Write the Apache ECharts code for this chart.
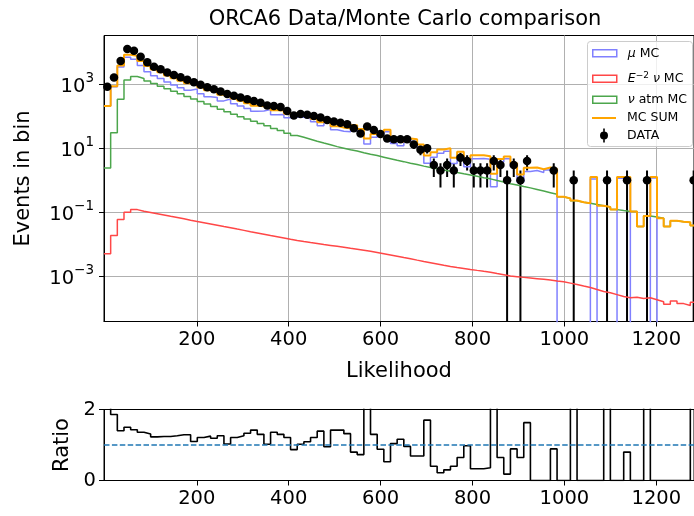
<!DOCTYPE html>
<html><head><meta charset="utf-8">
<script src="https://cdn.jsdelivr.net/npm/echarts@6/dist/echarts.min.js"></script>
<style>html,body{margin:0;padding:0;background:#fff}#c{width:694px;height:516px}</style>
</head><body><div id="c"></div>
<script>
// ---- data ----
const binEdges = [-2,12.5,27,41.5,56,70.5,85,99.5,114,128.5,143,157.5,172,186.5,201,215.5,230,244.5,259,273.5,
288,302.5,317,331.5,346,360.5,375,389.5,404,418.5,433,447.5,462,476.5,491,505.5,520,534.5,549,563.5,
578,592.5,607,621.5,636,650.5,665,679.5,694,708.5,723,737.5,752,766.5,781,795.5,810,824.5,839,853.5,
868,882.5,897,911.5,926,940.5,955,969.5,984,998.5,1013,1027.5,1042,1056.5,1071,1085.5,1100,1114.5,1129,1143.5,
1158,1172.5,1187,1201.5,1216,1230.5,1245,1259.5,1274,1288.5];

const muMC = [208,841,3497,7051,6094,3854,2481,1839,1508,1171,
945,778,653,708,505,408,388,302,347,245,
210,175,142,145,161,112,114,90,96,93,
84,67,50,67,38,34,33,44,33,13.5,
22,27,33,14,12,16.6,16,10.3,3.4,5.2,
7.0,8.1,3.3,6.1,2.65,4.7,4.8,4.5,0.62,3.7,
4.7,2.7,0.87,1.87,2.0,1.74,2.1,1.9,0,0,
0,0,0,1.08,0,0,0,1.14,1.15,0,
0,0,1.18,0,0,0,0,0,0];

const nuE2MC = [0.0050,0.0186,0.0589,0.100,0.120,0.107,0.0977,0.0891,0.0813,0.0741,
0.0676,0.0617,0.0562,0.0513,0.0468,0.0427,0.0389,0.0355,0.0324,0.0295,
0.0269,0.0245,0.0224,0.0204,0.0186,0.0170,0.0155,0.0141,0.0129,0.0120,
0.0112,0.0105,0.00977,0.00912,0.00851,0.00794,0.00741,0.00692,0.00646,0.00603,
0.00550,0.00501,0.00457,0.00417,0.00380,0.00347,0.00316,0.00288,0.00263,0.00240,
0.00219,0.00200,0.00186,0.00174,0.00162,0.00151,0.00141,0.00132,0.00120,0.00110,
0.00100,0.000955,0.000912,0.000871,0.000832,0.000794,0.000759,0.000708,0.000661,0.000603,
0.000550,0.000490,0.000437,0.000380,0.000331,0.000302,0.000263,0.000229,0.000209,0.000219,
0.000200,0.000209,0.000182,0.000158,0.000132,0.000166,0.000138,0.000120,0.000151];

const nuAtmMC = [2.4,30.2,339,1349,1738,1514,1259,1047,871,724,
603,501,417,347,288,240,200,166,138,115,
95.5,81.3,69.2,58.9,50.1,41.7,35.5,29.5,25.1,21.9,
19.1,16.6,14.5,12.9,11.2,10.0,8.91,8.13,7.24,6.46,
5.89,5.25,4.68,4.17,3.80,3.39,3.09,2.75,2.51,2.29,
2.09,1.91,1.74,1.58,1.45,1.32,1.20,1.10,0.977,0.871,
0.776,0.708,0.631,0.575,0.513,0.457,0.407,0.363,0.302,0.269,
0.229,0.204,0.191,0.174,0.158,0.145,0.120,0.112,0.105,0.105,
0.0355,0.0759,0.0708,0.0646,0.0355,0.0537,0.0501,0.0479,0.038];

const mcSum = [210,871,3836,8400,7832,5368,3740,2886,2379,1895,
1548,1279,1070,1055,793,648,588,468,485,360,
306,256,211,204,211,154,150,120,121,115,
103,84,65,80,49,44,42,52,40,20,
28,32,38,18,16,20,19,13,5.9,7.5,
9.1,10,5,7.7,4.1,6,6,5.6,1.6,4.6,
5.5,3.4,1.5,2.45,2.5,2.2,2.5,2.25,0.303,0.270,
0.230,0.205,0.191,1.25,0.158,0.145,0.120,1.25,1.25,0.105,
0.0357,0.0761,1.25,0.0648,0.0356,0.0539,0.0502,0.048,0.038];

const dataCounts = [840,1620,5370,12600,11200,7300,4900,3550,2950,2350,
1950,1650,1380,1160,960,810,700,590,500,435,
385,340,300,265,215,210,195,145,105,117,
112,102,91,76,69,63,56,42,29,48,
37,28,20,19,19,19,13,9,10,3,
2,3,2,5,4,2,2,2,4,3,
1,3,1,4,0,0,0,2,0,0,
1,0,0,0,0,1,0,0,1,0,
0,1,0,0,0,0,0,0,1];

const ratio = [4.0,1.86,1.40,1.50,1.43,1.36,1.31,1.23,1.24,1.24,
1.26,1.29,1.29,1.10,1.21,1.25,1.19,1.26,1.03,1.21,
1.26,1.33,1.42,1.30,1.02,1.36,1.30,1.21,0.87,1.02,
1.09,1.21,1.39,0.95,1.42,1.42,1.32,0.80,0.73,2.4,
1.30,0.88,0.53,1.04,1.16,0.96,0.69,0.69,1.70,0.40,
0.22,0.30,0.40,0.65,0.98,0.33,0.33,0.36,2.5,0.65,
0.18,0.89,0.65,1.63,0,0,0,0.89,0,0,
4.3,0,0,0,0,6.9,0,0,0.80,0,
0,13,0,0,0,0,0,0,26];

const xTicks = [200,400,600,800,1000,1200];
const yTickExponents = [-3,-1,1,3];
const ratioTicks = [0,2];

// ---- helpers ----
const FLOOR = -12;
const lg = v => v > 0 ? Math.log10(v) : FLOOR;
function stepData(vals, f) {
  const out = vals.map((v, i) => [binEdges[i], f(v)]);
  out.push([binEdges[vals.length], f(vals[vals.length - 1])]);
  return out;
}
const centers = dataCounts.map((_, i) => (binEdges[i] + binEdges[i + 1]) / 2);
const dataPts = [], errPts = [];
dataCounts.forEach((n, i) => {
  if (n > 0) {
    dataPts.push([centers[i], Math.log10(n)]);
    const e = Math.sqrt(n);
    errPts.push([centers[i], lg(n - e), Math.log10(n + e)]);
  }
});

const FONT = 'DejaVu Sans';
const chart = echarts.init(document.getElementById('c'), null, {renderer: 'canvas'});
const supMinus = v => (v < 0 ? '\u2212' + (-v) : '' + v);

const gridLine = {show: true, lineStyle: {color: '#b0b0b0', width: 1}};
const axisLineBlack = {show: true, onZero: false, lineStyle: {color: '#000', width: 1}};
const tickStyle = {show: true, length: 5, lineStyle: {color: '#000', width: 1}};
const plainNum = v => String(v);

function legendBox(name, top, left, iw, ih, icon, itemStyle, formatter, padLeft) {
  return {
    show: true, orient: 'horizontal', left: left, top: top, padding: 0, itemGap: 0,
    itemWidth: iw, itemHeight: ih, selectedMode: false,
    data: [{name: name, icon: icon, itemStyle: itemStyle}],
    formatter: formatter,
    textStyle: {fontFamily: FONT, fontSize: 12.5, color: '#000', lineHeight: 15, padding: [0, 0, 0, padLeft],
      rich: {
        i: {fontFamily: FONT, fontStyle: 'italic', fontSize: 12.5, lineHeight: 15},
        n: {fontFamily: FONT, fontSize: 12.5, lineHeight: 15},
        s: {fontFamily: FONT, fontSize: 9, lineHeight: 15, verticalAlign: 'top', padding: [0, 0, 0, 0]}
      }}
  };
}

const option = {
  animation: false,
  backgroundColor: '#fff',
  title: {
    text: 'ORCA6 Data/Monte Carlo comparison',
    left: 400, top: 4, textAlign: 'center',
    textStyle: {fontFamily: FONT, fontSize: 21, fontWeight: 'normal', color: '#000'}
  },
  grid: [
    {left: 104, top: 35.5, width: 592, height: 286, show: true, borderColor: '#000', borderWidth: 1, containLabel: false},
    {left: 104, top: 409.5, width: 592, height: 71, show: true, borderColor: '#000', borderWidth: 1, containLabel: false}
  ],
  xAxis: [
    {type: 'value', gridIndex: 0, min: -2, max: 1282,
      axisLine: axisLineBlack, axisTick: Object.assign({customValues: xTicks}, tickStyle),
      axisLabel: {customValues: xTicks, formatter: plainNum, fontFamily: FONT, fontSize: 19.5, color: '#000', margin: 8},
      splitLine: gridLine,
      name: 'Likelihood', nameLocation: 'middle', nameGap: 40,
      nameTextStyle: {fontFamily: FONT, fontSize: 21, color: '#000'}},
    {type: 'value', gridIndex: 1, min: -2, max: 1282,
      axisLine: axisLineBlack, axisTick: Object.assign({customValues: xTicks}, tickStyle),
      axisLabel: {customValues: xTicks, formatter: plainNum, fontFamily: FONT, fontSize: 19.5, color: '#000', margin: 8},
      splitLine: {show: false}}
  ],
  yAxis: [
    {type: 'value', gridIndex: 0, min: -4.42, max: 4.525,
      axisLine: axisLineBlack, axisTick: Object.assign({customValues: yTickExponents}, tickStyle),
      axisLabel: {customValues: yTickExponents, margin: 10, color: '#000',
        formatter: v => '{b|10}{s|' + supMinus(v) + '}',
        rich: {
          b: {fontFamily: FONT, fontSize: 19.5, lineHeight: 26, verticalAlign: 'bottom', color: '#000'},
          s: {fontFamily: FONT, fontSize: 13.5, lineHeight: 14, verticalAlign: 'top', color: '#000'}
        }},
      splitLine: gridLine,
      name: 'Events in bin', nameLocation: 'middle', nameGap: 70, nameRotate: 90,
      nameTextStyle: {fontFamily: FONT, fontSize: 21, color: '#000'}},
    {type: 'value', gridIndex: 1, min: 0, max: 2,
      axisLine: axisLineBlack, axisTick: Object.assign({customValues: ratioTicks}, tickStyle),
      axisLabel: {customValues: ratioTicks, formatter: plainNum, fontFamily: FONT, fontSize: 19.5, color: '#000', margin: 8},
      splitLine: {show: false},
      name: 'Ratio', nameLocation: 'middle', nameGap: 24, nameRotate: 90,
      nameTextStyle: {fontFamily: FONT, fontSize: 21, color: '#000'}}
  ],
  legend: [
    legendBox('mu MC', 45.8, 592, 24, 7, 'rect', {color: 'rgba(0,0,0,0)', borderColor: '#8080ff', borderWidth: 1.5},
      () => '{i|\u03bc} MC', 6),
    legendBox('E2 nu MC', 71.3, 592, 24, 7, 'rect', {color: 'rgba(0,0,0,0)', borderColor: '#ff4747', borderWidth: 1.5},
      () => '{i|E}{s|\u22122} {i|\u03bd} MC', 6),
    legendBox('atm nu MC', 92.3, 592, 24, 7, 'rect', {color: 'rgba(0,0,0,0)', borderColor: '#4ca64c', borderWidth: 1.5},
      () => '{i|\u03bd} atm MC', 6),
    legendBox('MC SUM', 110.5, 592, 24, 2, 'rect', {color: '#ffa500', borderWidth: 0},
      () => 'MC SUM', 6),
    legendBox('DATA', 128, 600, 8, 14, 'path://M3.2,0H4.8V14H3.2Z M0,7A4,4,0,1,1,8,7A4,4,0,1,1,0,7Z', {color: '#000', borderWidth: 0, opacity: 1},
      () => 'DATA', 14)
  ],
  graphic: {elements: [
    {type: 'rect', z: 3, shape: {x: 587.5, y: 41.5, width: 105, height: 105, r: 3},
      style: {fill: 'rgba(255,255,255,0.8)', stroke: '#cccccc', lineWidth: 1}}
  ]},
  series: [
    {name: 'mu MC', type: 'line', xAxisIndex: 0, yAxisIndex: 0, step: 'end', symbol: 'none', clip: true,
      data: stepData(muMC, lg), lineStyle: {color: '#8080ff', width: 1.5}, itemStyle: {color: '#8080ff'}, z: 2},
    {name: 'E2 nu MC', type: 'line', xAxisIndex: 0, yAxisIndex: 0, step: 'end', symbol: 'none', clip: true,
      data: stepData(nuE2MC, lg), lineStyle: {color: '#ff4747', width: 1.5}, itemStyle: {color: '#ff4747'}, z: 2},
    {name: 'atm nu MC', type: 'line', xAxisIndex: 0, yAxisIndex: 0, step: 'end', symbol: 'none', clip: true,
      data: stepData(nuAtmMC, lg), lineStyle: {color: '#4ca64c', width: 1.5}, itemStyle: {color: '#4ca64c'}, z: 2},
    {name: 'MC SUM', type: 'line', xAxisIndex: 0, yAxisIndex: 0, step: 'end', symbol: 'none', clip: true,
      data: stepData(mcSum, lg), lineStyle: {color: '#ffa500', width: 2}, itemStyle: {color: '#ffa500'}, z: 2},
    {name: 'DATA err', type: 'custom', xAxisIndex: 0, yAxisIndex: 0, clip: true, z: 2,
      encode: {x: 0, y: [1, 2]},
      renderItem: (params, api) => {
        const p1 = api.coord([api.value(0), api.value(1)]);
        const p2 = api.coord([api.value(0), api.value(2)]);
        return {type: 'line', shape: {x1: p1[0], y1: p1[1], x2: p2[0], y2: p2[1]},
          style: {stroke: '#000', lineWidth: 2}};
      },
      data: errPts},
    {name: 'DATA', type: 'scatter', xAxisIndex: 0, yAxisIndex: 0, symbol: 'circle', symbolSize: 8.5, clip: true,
      itemStyle: {color: '#000', opacity: 1}, data: dataPts, z: 3},
    {name: 'Ratio', type: 'line', xAxisIndex: 1, yAxisIndex: 1, step: 'end', symbol: 'none', clip: true,
      data: stepData(ratio, v => v), lineStyle: {color: '#000', width: 1.6},
      markLine: {silent: true, symbol: ['none', 'none'], label: {show: false},
        lineStyle: {color: '#1f77b4', type: [5.5, 2.4], width: 1.5},
        data: [{yAxis: 1}]}}
  ]
};
chart.setOption(option);
</script>
</body></html>
